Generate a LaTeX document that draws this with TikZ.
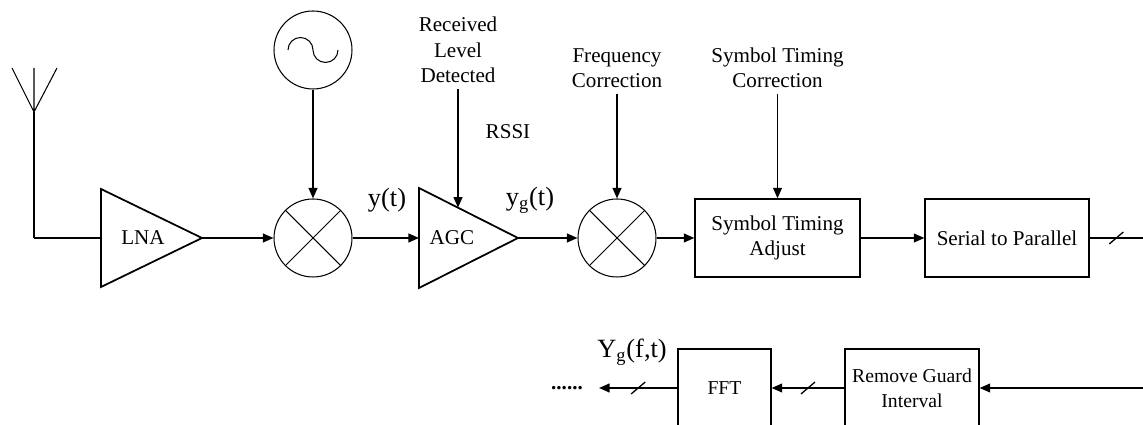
\documentclass[tikz,border=0pt]{standalone}
\usepackage{fontspec}
\setmainfont{Liberation Serif}
\usetikzlibrary{arrows.meta,calc,decorations.markings}
\tikzset{
    every node/.style={font=\fontsize{12}{14.5}\selectfont},
    sig/.style={-{Triangle[length=6pt,width=5pt]}, line width=0.9pt},
    wire/.style={line width=0.9pt},
    amp/.style={line width=1pt, line join=miter},
    block/.style={draw, line width=0.7pt, minimum height=1.56cm, align=center, inner sep=0pt},
    mixer/.style={draw, circle, line width=0.6pt, minimum size=1.56cm, inner sep=0pt,
        path picture={\draw[line width=0.6pt] (path picture bounding box.north west) -- (path picture bounding box.south east)
            (path picture bounding box.north east) -- (path picture bounding box.south west);}},
    osc/.style={draw, circle, line width=0.6pt, minimum size=1.56cm, inner sep=0pt,
        path picture={\draw[line width=0.6pt] ([xshift=-0.5cm]path picture bounding box.center)
            arc[start angle=180, end angle=0, radius=0.25cm] arc[start angle=180, end angle=360, radius=0.25cm];}},
    bigtext/.style={font=\fontsize{15}{18}\selectfont},
    smalltext/.style={font=\fontsize{11.2}{14}\selectfont},
    bus/.style={postaction={decorate}, decoration={markings,
        mark=at position 0.5 with {\draw[line width=0.75pt, -] (-4pt,-3.4pt) -- (4pt,3.4pt);}}}
}

\begin{document}
\begin{tikzpicture}[x=0.02cm, y=0.02cm]
    \useasboundingbox (0,0) rectangle (1143,425);

    % Antenna
    \coordinate (ant) at (34,313);
    \coordinate (antfoot) at (34,187);
    \draw[line width=0.6pt] (12,357) -- (ant) -- (57,357) (ant) -- (34,357);
    \draw[wire] (ant) -- (antfoot);

    % LNA
    \coordinate (lnaIn) at (101,187);
    \coordinate (lnaOut) at (202,187);
    \draw[amp] (101,236) -- (lnaOut) -- (101,138) -- cycle;
    \node (lna) at (143,187) {LNA};
    \draw[wire] (antfoot) -- (lnaIn);

    % First mixer and oscillator
    \node[mixer] (mix1) at (313,187) {};
    \node[osc] (lo) at (313,375) {};
    \draw[sig] (lnaOut) -- (mix1);
    \draw[sig] (lo) -- (mix1);

    % AGC
    \coordinate (agcA) at (419,237);
    \coordinate (agcIn) at (419,187);
    \coordinate (agcOut) at (518,187);
    \draw[amp] (agcA) -- (agcOut) -- (419,137) -- cycle;
    \coordinate (agcTop) at ($(agcA)!0.394!(agcOut)$);
    \node (agc) at (452,187) {AGC};
    \node[bigtext] (yt) at (387,225) {y(t)};
    \node[bigtext] (ygt) at (530,225) {y\textsubscript{g}(t)};
    \draw[sig] (mix1) -- (agcIn);

    \node[align=center] (rld) at (458,375) {Received\\Level\\Detected};
    \node (rssi) at (508,293) {RSSI};
    \draw[sig] (rld.south) -- (agcTop);

    % Second mixer
    \node[mixer] (mix2) at (617,187) {};
    \node[align=center] (fc) at (617,357) {Frequency\\Correction};
    \draw[sig] (agcOut) -- (mix2);
    \draw[sig] (fc) -- (mix2);

    % Symbol timing and serial to parallel
    \node[block, minimum width=3.3cm] (sta) at (777.5,187) {Symbol Timing\\Adjust};
    \node[align=center] (stc) at (777.5,357) {Symbol Timing\\Correction};
    \node[block, minimum width=3.28cm] (sp) at (1007,187) {Serial to Parallel};
    \coordinate (spout) at (1143,187);
    \draw[sig] (mix2) -- (sta);
    \draw[sig] (stc) -- (sta);
    \draw[sig] (sta) -- (sp);
    \draw[wire, bus] (sp) -- (spout);

    % Bottom row
    \coordinate (rgin) at (1143,37);
    \node[block, smalltext, minimum width=2.68cm] (rg) at (912,37) {Remove Guard\\Interval};
    \node[block, smalltext, minimum width=1.86cm] (fft) at (724.5,37) {FFT};
    \coordinate (fftout) at (599,37);
    \node (dots) at (567,37) {\textbf{......}};
    \node[bigtext] (ygf) at (632,73) {Y\textsubscript{g}(f,t)};
    \draw[sig] (rgin) -- (rg);
    \draw[sig, bus] (rg) -- (fft);
    \draw[sig, bus] (fft) -- (fftout);
\end{tikzpicture}
\end{document}
